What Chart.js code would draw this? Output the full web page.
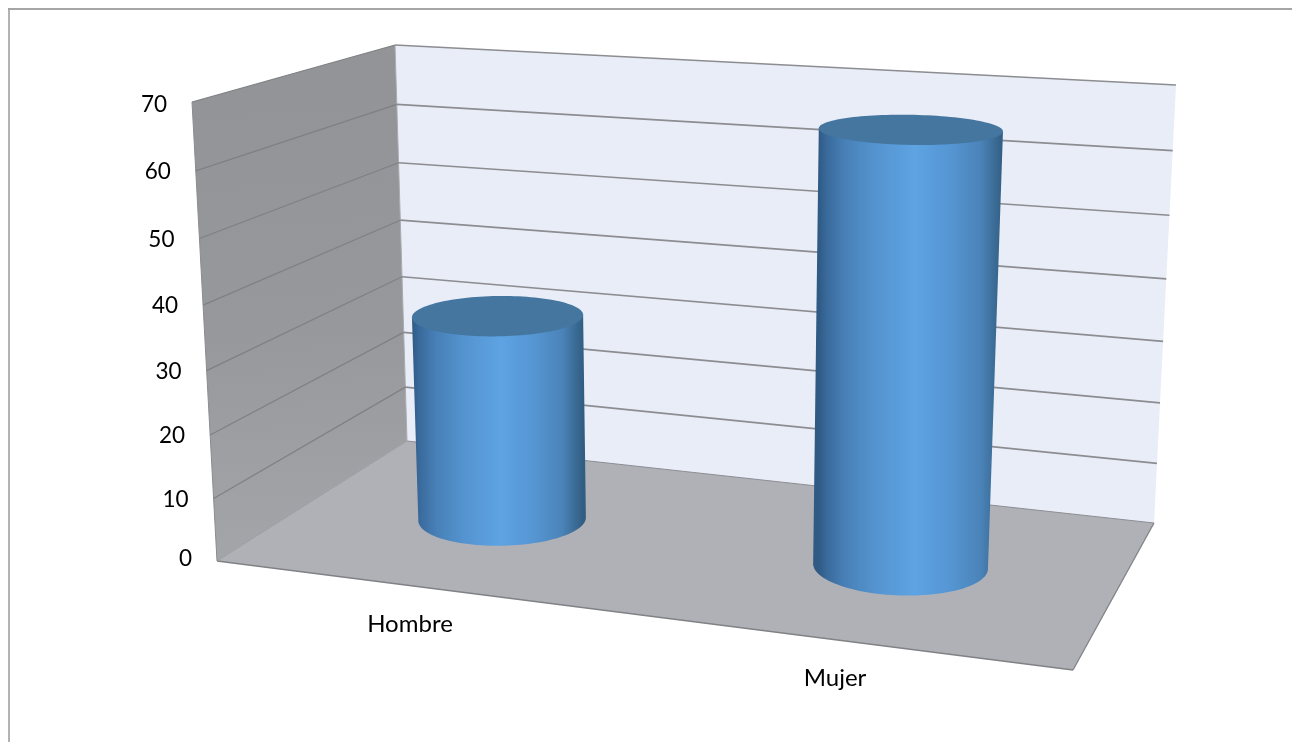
<!DOCTYPE html>
<html lang="es">
<head>
<meta charset="utf-8">
<title>Hombre / Mujer</title>
<script src="https://cdn.jsdelivr.net/npm/chart.js@4/dist/chart.umd.min.js"></script>
<style>
	html, body { margin: 0; padding: 0; background: #fff; }
	canvas { display: block; }
</style>
</head>
<body>
<canvas id="chart-area" width="1292" height="742"></canvas>
<script>
const categorias = ['Hombre', 'Mujer'];
const valores = [33.5, 66.5];
const yMax = 70;
const yStep = 10;

// box corners on screen: front-left, back-left, back-right, front-right
const floorQuad = [[217, 561], [407, 441], [1154, 523], [1073, 670]];
const ceilQuad = [[192, 102], [395, 45], [1176, 85], [1100, 157]];
const perspectiveA = 0.945;
const cylinderDepth = 0.5;
const cylinderRadiusW = 0.2;
const cylinderShiftU = -0.003;

// homography from the unit square (u right, w back) to a quad
function quadMap(q) {
	const [p0, p3, p2, p1] = [q[0], q[1], q[2], q[3]];
	const dx1 = p1[0] - p2[0], dx2 = p3[0] - p2[0], sx = p0[0] - p1[0] + p2[0] - p3[0];
	const dy1 = p1[1] - p2[1], dy2 = p3[1] - p2[1], sy = p0[1] - p1[1] + p2[1] - p3[1];
	const den = dx1 * dy2 - dx2 * dy1;
	const g = (sx * dy2 - dx2 * sy) / den;
	const h = (dx1 * sy - sx * dy1) / den;
	const a = p1[0] - p0[0] + g * p1[0], b = p3[0] - p0[0] + h * p3[0];
	const d = p1[1] - p0[1] + g * p1[1], e = p3[1] - p0[1] + h * p3[1];
	return (u, w) => {
		const z = g * u + h * w + 1;
		return [(a * u + b * w + p0[0]) / z, (d * u + e * w + p0[1]) / z];
	};
}
const floorMap = quadMap(floorQuad);
const ceilMap = quadMap(ceilQuad);

// t is the value as a fraction of the axis height
function project(u, w, t) {
	const s = perspectiveA * t / (1 + (perspectiveA - 1) * t);
	const a = floorMap(u, w), b = ceilMap(u, w);
	return [a[0] + (b[0] - a[0]) * s, a[1] + (b[1] - a[1]) * s];
}

// value axis that runs up the front edge of the side wall
class EdgeLinearScale extends Chart.LinearScale {
	getPixelForValue(v) {
		return project(0, 0, v / yMax)[1];
	}
	_computeLabelItems(area) {
		const items = super._computeLabelItems(area);
		items.forEach((item, i) => {
			const value = this.ticks[i].value;
			const p = project(0, 0, value / yMax);
			// first and last labels sit a little inside the axis ends
			const nudge = value === 0 ? -2 : value === yMax ? 3 : 1;
			item.textOffset = 0;
			item.options.translation = [p[0] - 25, p[1] + nudge];
			item.options.textAlign = 'right';
			item.options.textBaseline = 'middle';
		});
		return items;
	}
	// labels sit outside the scale's own box, so no clipping
	_computeLabelArea() {}
}
EdgeLinearScale.id = 'edgeLinear';
EdgeLinearScale.defaults = Chart.LinearScale.defaults;

// category axis whose labels follow the front of the floor
const labelLine = [[197.5, 597], [1047.5, 705]];
class FloorCategoryScale extends Chart.CategoryScale {
	_computeLabelItems(area) {
		const items = super._computeLabelItems(area);
		items.forEach((item, i) => {
			const u = (this.getPixelForTick(i) - this.left) / this.width;
			item.textOffset = 0;
			item.options.translation = [
				labelLine[0][0] + (labelLine[1][0] - labelLine[0][0]) * u,
				labelLine[0][1] + (labelLine[1][1] - labelLine[0][1]) * u
			];
			item.options.textAlign = 'center';
			item.options.textBaseline = 'middle';
		});
		return items;
	}
	_computeLabelArea() {}
}
FloorCategoryScale.id = 'floorCategory';
FloorCategoryScale.defaults = Chart.CategoryScale.defaults;
Chart.register(EdgeLinearScale, FloorCategoryScale);

function polygon(ctx, pts, fill) {
	ctx.beginPath();
	pts.forEach((p, i) => i ? ctx.lineTo(p[0], p[1]) : ctx.moveTo(p[0], p[1]));
	ctx.closePath();
	if (fill) {
		ctx.fillStyle = fill;
		ctx.fill();
	}
}

function segment(ctx, a, b, color, width) {
	ctx.beginPath();
	ctx.moveTo(a[0], a[1]);
	ctx.lineTo(b[0], b[1]);
	ctx.strokeStyle = color;
	ctx.lineWidth = width;
	ctx.stroke();
}

const boxPlugin = {
	id: 'box',
	beforeDatasetsDraw(chart) {
		const ctx = chart.ctx;
		const yScale = chart.scales.y;
		ctx.save();

		// frame runs off the canvas on the right and at the bottom
		segment(ctx, [8, 9], [chart.width, 9], '#a6a6a6', 2);
		segment(ctx, [9, 8], [9, chart.height], '#a0a0a0', 1.6);

		// back wall
		polygon(ctx, [project(0, 1, 0), project(0, 1, 1), project(1, 1, 1), project(1, 1, 0)], '#e9edf8');

		// side wall
		const a = project(0, 0, 1);
		const b = project(0, 0, 0);
		const side = ctx.createLinearGradient(a[0], a[1], b[0], b[1]);
		side.addColorStop(0, '#929497');
		side.addColorStop(0.5, '#96989b');
		side.addColorStop(1, '#a3a5a8');
		polygon(ctx, [project(0, 0, 0), project(0, 0, 1), project(0, 1, 1), project(0, 1, 0)], side);

		// floor
		polygon(ctx, [project(0, 0, 0), project(0, 1, 0), project(1, 1, 0), project(1, 0, 0)], '#afb1b7');
		segment(ctx, project(0, 0, 0), project(1, 0, 0), '#808285', 1.3);
		segment(ctx, project(1, 0, 0), project(1, 1, 0), '#808285', 1.3);
		segment(ctx, project(0, 0, 0), project(0, 1, 0), '#9a9ca0', 1);
		segment(ctx, project(0, 1, 0), project(1, 1, 0), '#8b8d92', 1);
		segment(ctx, project(0, 0, 0), project(0, 0, 1), '#8a8c8f', 1);
		segment(ctx, project(0, 1, 0), project(0, 1, 1), '#a9abaf', 1);

		// grid lines from the axis ticks
		yScale.ticks.forEach(tick => {
			if (tick.value === 0) return;
			const t = tick.value / yMax;
			segment(ctx, project(0, 0, t), project(0, 1, t), '#7e8083', 1.2);
			segment(ctx, project(0, 1, t), project(1, 1, t), '#8c8d90', 1.7);
		});
		ctx.restore();
	},
	afterDatasetsDraw(chart) {
		const ctx = chart.ctx;
		const xScale = chart.scales.x;
		const meta = chart.getDatasetMeta(0);
		ctx.save();
		meta.data.forEach((bar, i) => {
			const uc = (bar.x - xScale.left) / xScale.width + cylinderShiftU;
			const ru = bar.width / 2 / xScale.width;
			const t = valores[i] / yMax;
			const N = 120;
			const low = [], high = [];
			for (let k = 0; k < N; k++) {
				const th = Math.PI + k / N * 2 * Math.PI;
				const u = uc + ru * Math.cos(th);
				const w = cylinderDepth + cylinderRadiusW * Math.sin(th);
				low.push(project(u, w, 0));
				high.push(project(u, w, t));
			}
			// silhouette: sides plus the front half of the base
			const extreme = (ring, sign) => ring.reduce((best, p, k) => sign * p[0] > sign * ring[best][0] ? k : best, 0);
			const iL = extreme(low, -1), iR = extreme(low, 1);
			const body = [high[extreme(high, -1)]];
			for (let k = iL; k !== iR; k = (k + 1) % N) body.push(low[k]);
			body.push(low[iR], high[extreme(high, 1)]);

			const xL = high[extreme(high, -1)][0];
			const xR = high[extreme(high, 1)][0];
			const grad = ctx.createLinearGradient(xL, 0, xR, 0);
			grad.addColorStop(0, '#2f5a84');
			grad.addColorStop(0.04, '#39699a');
			grad.addColorStop(0.14, '#4780b6');
			grad.addColorStop(0.3, '#5493cf');
			grad.addColorStop(0.52, '#5ea3e3');
			grad.addColorStop(0.72, '#5595d2');
			grad.addColorStop(0.88, '#4a83b8');
			grad.addColorStop(0.97, '#38678f');
			grad.addColorStop(1, '#325d83');
			polygon(ctx, body, grad);
			polygon(ctx, high, '#45769f');
		});
		ctx.restore();
	}
};

let buildChart = function () {
	const ctx = document.getElementById('chart-area').getContext('2d');
	window.myBar = new Chart(ctx, {
		type: 'bar',
		data: {
			labels: categorias,
			datasets: [{
				data: valores,
				backgroundColor: 'transparent',
				borderWidth: 0,
				categoryPercentage: 0.84,
				barPercentage: 0.482
			}]
		},
		options: {
			responsive: false,
			animation: false,
			layout: { padding: { left: 0, right: 0, top: 20, bottom: 20 } },
			plugins: {
				legend: { display: false },
				title: { display: false },
				tooltip: { enabled: false }
			},
			scales: {
				x: {
					type: 'floorCategory',
					grid: { display: false },
					border: { display: false },
					ticks: { color: '#000', font: { family: 'Lato', size: 24 }, maxRotation: 0 }
				},
				y: {
					type: 'edgeLinear',
					min: 0,
					max: yMax,
					grid: { display: false },
					border: { display: false },
					ticks: { stepSize: yStep, color: '#000', font: { family: 'Lato', size: 22.5 } }
				}
			}
		},
		plugins: [boxPlugin]
	});
};

buildChart();
</script>
</body>
</html>
